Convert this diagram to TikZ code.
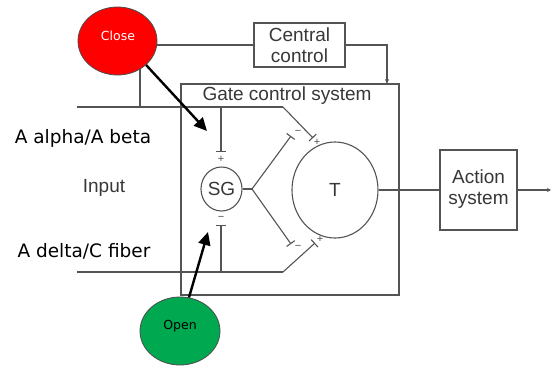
\documentclass[tikz,border=0pt]{standalone}
\usepackage{fontspec}
\setmainfont{Liberation Sans}
\newfontfamily\sidefont{DejaVu Sans}
\usetikzlibrary{arrows.meta,shapes.geometric}
\pgfdeclarelayer{bg}
\pgfsetlayers{bg,main}
\definecolor{ln}{gray}{0.33}
\definecolor{tx}{gray}{0.22}
\definecolor{redc}{RGB}{255,0,0}
\definecolor{greenc}{RGB}{0,168,80}
\begin{document}
\begin{tikzpicture}[x=1pt,y=-1pt,
  wire/.style={draw=ln, line width=1.1pt},
  box/.style={draw=ln, line width=1.1pt, fill=white, inner sep=0pt},
  lbl/.style={text=tx, font=\fontsize{19}{20.5}\selectfont, align=center, inner sep=0pt},
  side/.style={text=black, font=\sidefont\fontsize{18.5}{20}\selectfont, inner sep=0pt},
  inhib/.style={wire, -{Bar[width=10pt,line width=1.1pt]}},
  sign/.style={text=ln, font=\fontsize{11}{11}\selectfont, inner sep=0pt},
  blob/.style={ellipse, draw=black!70, line width=0.8pt, inner sep=0pt},
  bigarrow/.style={line width=2.4pt, -{Triangle[length=13pt,width=12pt]}}
]
\useasboundingbox (0,0) rectangle (552,365);

% boxes
\node[box, minimum width=218pt, minimum height=211pt] (gate) at (290,189.5) {};
\node[lbl] (gatel) at (287,96) {Gate control system};
\node[box, minimum width=91pt, minimum height=44pt] (cc) at (299.5,45) {};
\node[lbl] (ccl) at (299.5,45) {Central\\control};
\node[box, minimum width=77pt, minimum height=80pt] (act) at (478.5,190) {};
\node[lbl] (actl) at (478.5,189) {Action\\system};

% circles
\node[ellipse, draw=ln, line width=1.1pt, minimum width=41pt, minimum height=44pt, inner sep=0pt, text=tx, font=\fontsize{19}{20}\selectfont] (sg) at (221.5,189) {SG};
\node[ellipse, draw=ln, line width=1.1pt, minimum width=86pt, minimum height=96pt, inner sep=0pt, text=tx, font=\fontsize{19}{20}\selectfont] (t) at (335,190) {T};

% coordinates
\coordinate (in1) at (77,107);
\coordinate (j1) at (140,107);
\coordinate (j2) at (221,107);
\coordinate (d1) at (283,107);
\coordinate (e1) at (313,138);
\coordinate (b1) at (221,152);
\coordinate (in2) at (77,272);
\coordinate (j3) at (221,272);
\coordinate (d2) at (283,272);
\coordinate (e2) at (315,243);
\coordinate (b2) at (221,225);
\coordinate (f0) at (252,189);
\coordinate (fu) at (291,136);
\coordinate (fl) at (291,244);
\coordinate (ca) at (387,84);
\coordinate (cv) at (140,41);
\coordinate (outp) at (551,190);
\coordinate (ct) at (207,131);
\coordinate (ot) at (208,232);

% inputs
\draw[wire] (in1) -- (d1);
\draw[inhib] (d1) -- (e1);
\draw[inhib] (j2) -- (b1);
\draw[wire] (in2) -- (d2);
\draw[inhib] (d2) -- (e2);
\draw[inhib] (j3) -- (b2);
% SG fork
\draw[wire] (sg.east) -- (f0);
\draw[inhib] (f0) -- (fu);
\draw[inhib] (f0) -- (fl);
% output
\draw[wire] (t.east) -- (act.west);
\draw[wire, -{Stealth[length=4pt,width=4pt]}] (act.east) -- (outp);
% central control
\draw[wire, -{Stealth[length=5pt,width=4pt]}] (cc.east) -| (ca);

% signs
\node[sign] (s1) at (221,159) {+};
\node[sign] (s2) at (221,218) {\textminus};
\node[sign] (s3) at (298,132) {\textminus};
\node[sign] (s4) at (317,142) {+};
\node[sign] (s5) at (298,247) {\textminus};
\node[sign] (s6) at (320,239) {+};

% side labels
\node[side] (la) at (83,138) {A alpha/A beta};
\node[lbl] (li) at (104,188) {Input};
\node[side] (ld) at (84,251) {A delta/C fiber};

% close / open
\node[blob, fill=redc, minimum width=79pt, minimum height=68pt] (close) at (117.5,41) {};
\node[text=white, font=\sidefont\fontsize{12.5}{14}\selectfont, inner sep=0pt] (closet) at (118,36) {Close};
\node[blob, fill=greenc, minimum width=80pt, minimum height=68pt] (open) at (180,331) {};
\node[text=black, font=\sidefont\fontsize{12.5}{14}\selectfont, inner sep=0pt] (opent) at (180,326) {Open};

\begin{pgfonlayer}{bg}
\draw[wire] (close.center |- cc.west) -- (cc.west);
\draw[wire] (cv) -- (j1);
\end{pgfonlayer}

\draw[bigarrow] (close.-40) -- (ct);
\draw[bigarrow] (open.75) -- (ot);
\end{tikzpicture}
\end{document}
